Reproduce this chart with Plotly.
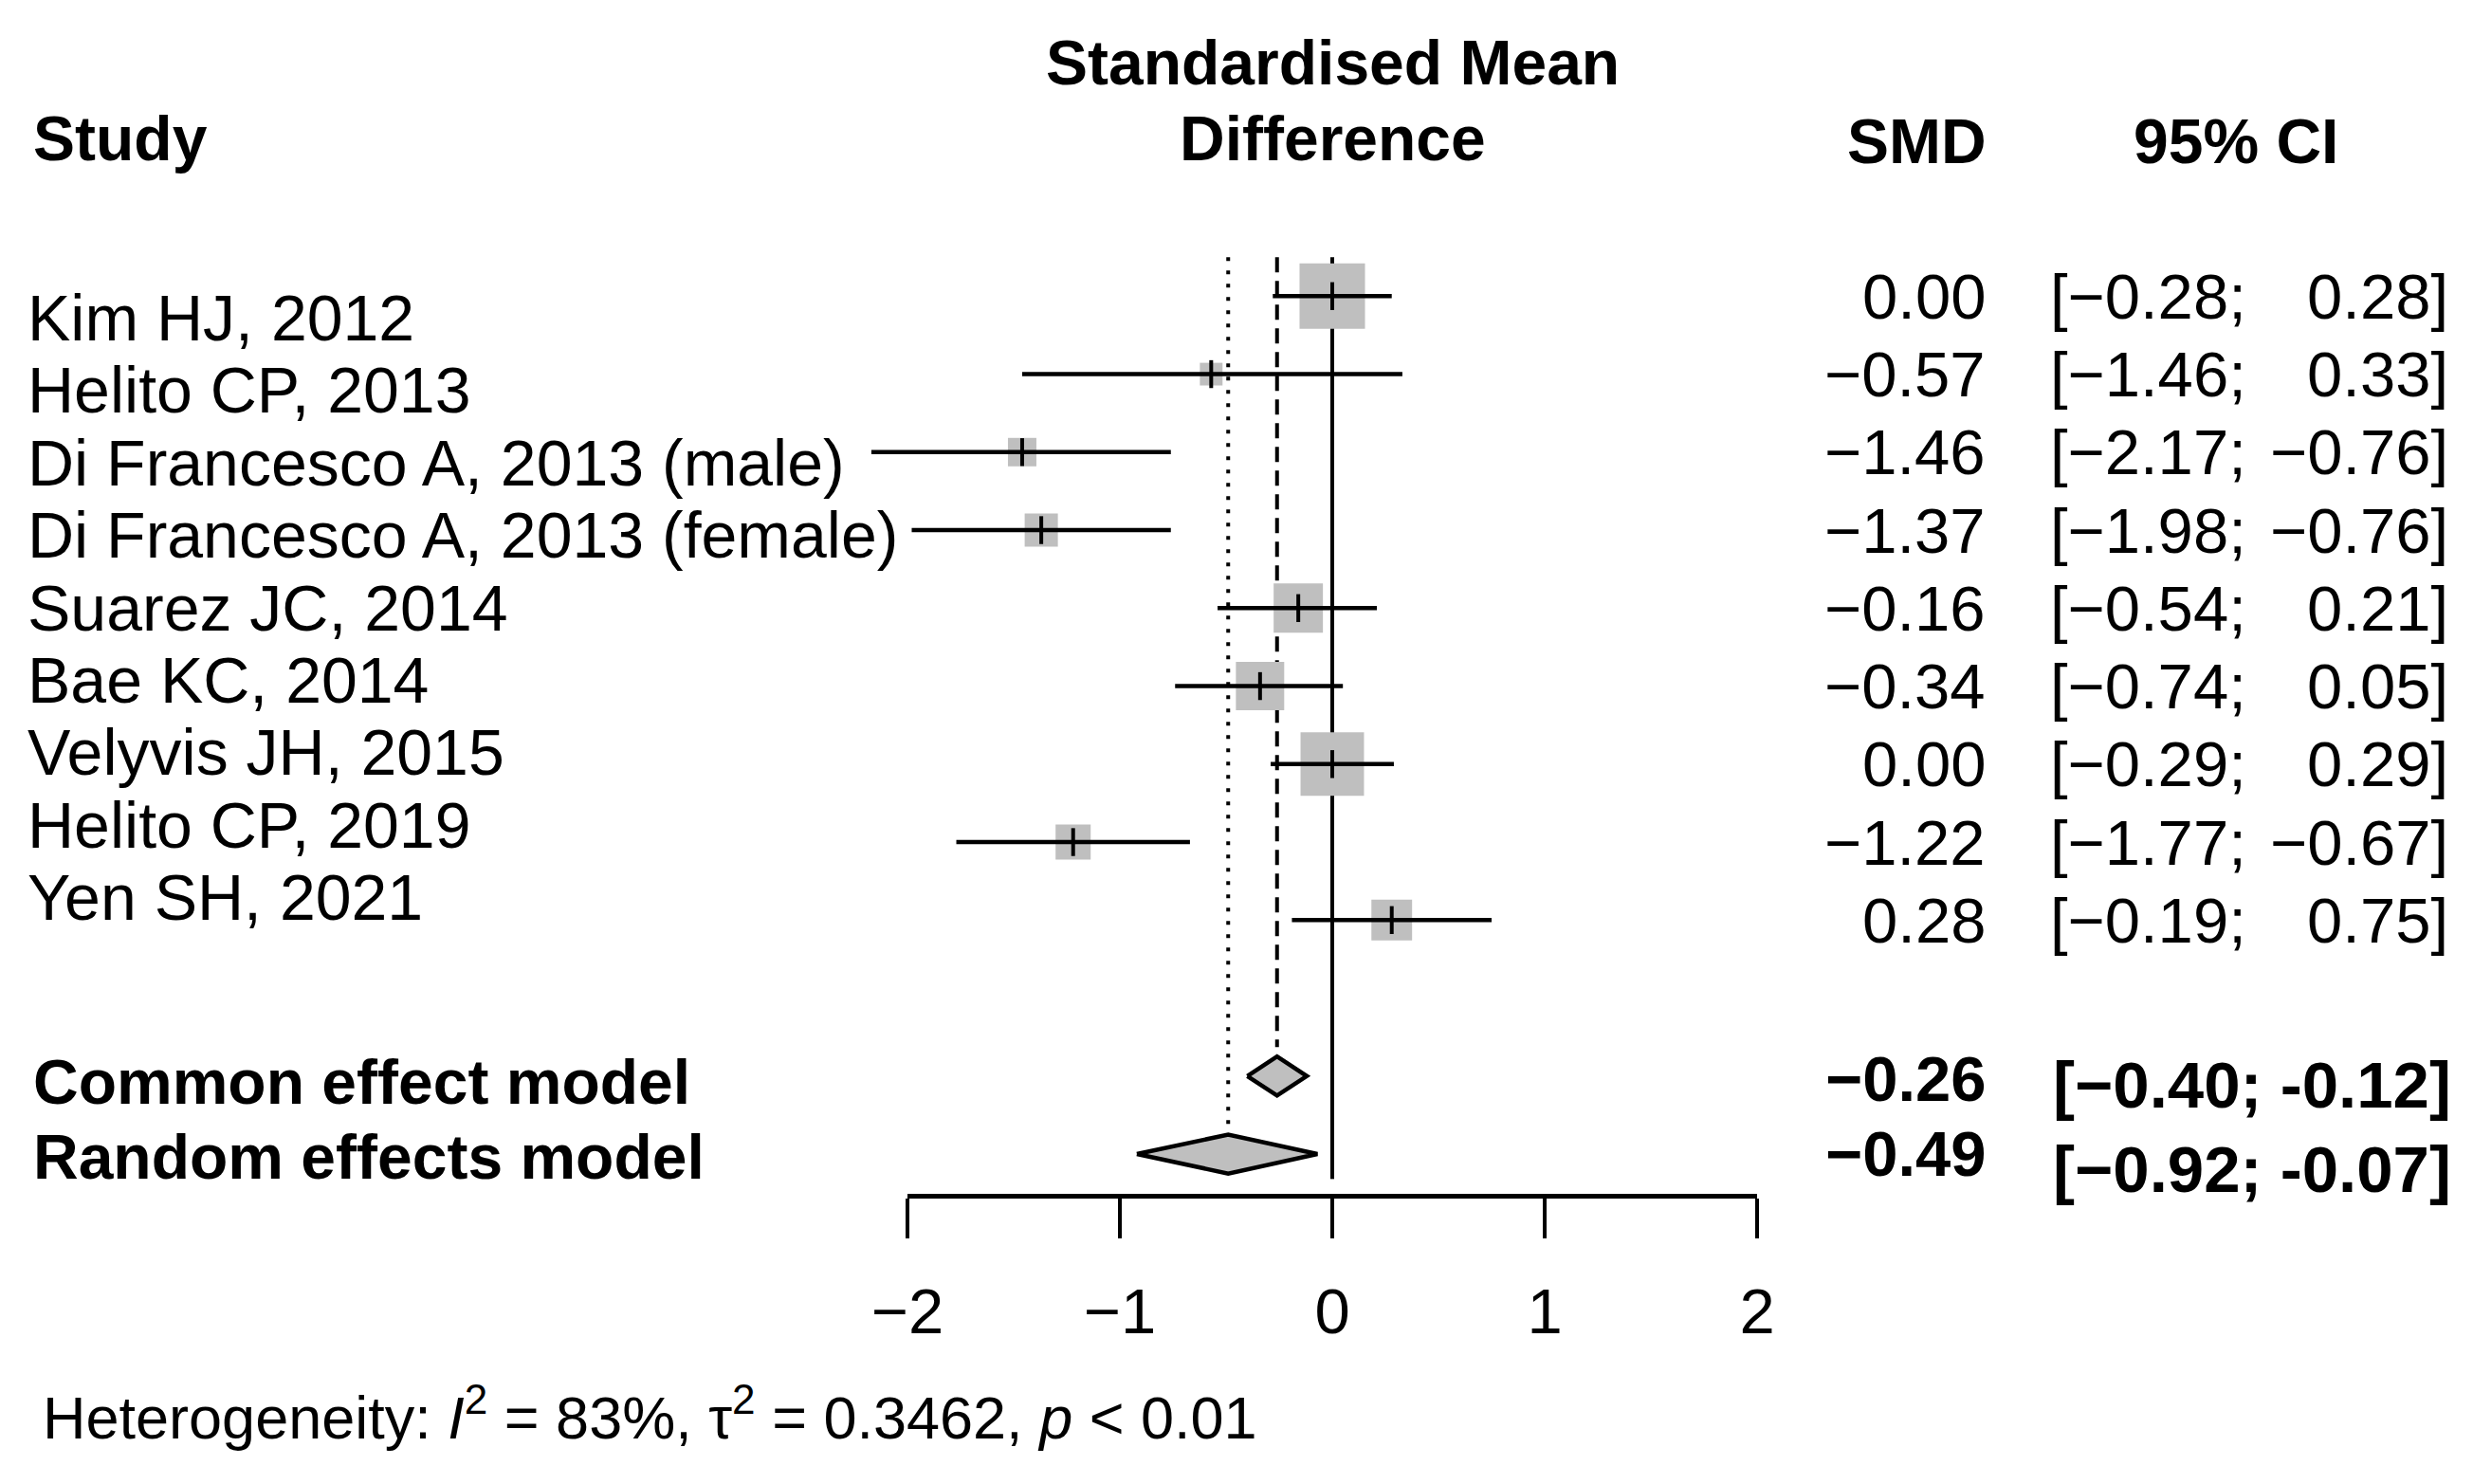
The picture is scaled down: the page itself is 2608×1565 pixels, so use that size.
import plotly.graph_objects as go

# ---------------- data ----------------
STUDIES = ["Kim HJ, 2012", "Helito CP, 2013", "Di Francesco A, 2013 (male)",
           "Di Francesco A, 2013 (female)", "Suarez JC, 2014", "Bae KC, 2014",
           "Velyvis JH, 2015", "Helito CP, 2019", "Yen SH, 2021"]
SMD = [0.00, -0.57, -1.46, -1.37, -0.16, -0.34, 0.00, -1.22, 0.28]
CI_LOW = [-0.28, -1.46, -2.17, -1.98, -0.54, -0.74, -0.29, -1.77, -0.19]
CI_HIGH = [0.28, 0.33, -0.76, -0.76, 0.21, 0.05, 0.29, -0.67, 0.75]
WEIGHTS = [23.3, 2.8, 4.4, 6.0, 13.2, 12.7, 21.9, 6.7, 9.0]

MODELS = ["Common effect model", "Random effects model"]
MODEL_SMD = [-0.26, -0.49]
MODEL_LOW = [-0.40, -0.92]
MODEL_HIGH = [-0.12, -0.07]
MODEL_CI_TEXT = ["[\u22120.40; -0.12]", "[\u22120.92; -0.07]"]

TICKS = [-2, -1, 0, 1, 2]

# ---------------- geometry (screen pixels, page has an 8px body margin) ----------------
W, H = 2608, 1565
OFF = 8
X0_PX, UNIT_PX = 1405.0 - OFF, 224.0     # figure pixel of x=0, pixels per unit
ROW0_PX, ROW_PX = 312.3 - OFF, 82.25     # figure pixel of first row, pixels per row
FONT = "Liberation Sans, Arial, sans-serif"
GRAY = "#BFBFBF"
MINUS = "\u2212"


def fmt(v):
    s = f"{abs(v):.2f}"
    return (MINUS + s) if v < 0 else s


def px(sx):
    return (sx - OFF) / W


def py(sy):
    return 1 - (sy - OFF) / H


x_range = [-X0_PX / UNIT_PX, (W - X0_PX) / UNIT_PX]
y_range = [(H - ROW0_PX) / ROW_PX, -ROW0_PX / ROW_PX]

n = len(STUDIES)
rows = list(range(n))
model_rows = [n + 1, n + 2]
AXIS_SY = 1259
axis_row = (AXIS_SY - OFF - ROW0_PX) / ROW_PX
ref_top = -0.5
half_h = [0.25, 0.25]

fig = go.Figure()

# reference lines
fig.add_trace(go.Scatter(x=[0, 0], y=[ref_top, axis_row], mode="lines",
                         line=dict(color="black", width=4), hoverinfo="skip"))
fig.add_trace(go.Scatter(x=[MODEL_SMD[0]] * 2, y=[ref_top, model_rows[0] - half_h[0] - 0.12],
                         mode="lines", line=dict(color="black", width=4, dash="16px,9px"),
                         hoverinfo="skip"))
fig.add_trace(go.Scatter(x=[MODEL_SMD[1]] * 2, y=[ref_top, model_rows[1] - half_h[1] - 0.12],
                         mode="lines", line=dict(color="black", width=4, dash="4px,10px"),
                         hoverinfo="skip"))

# boxes (side proportional to sqrt of weight)
sizes = [14.3 * (w ** 0.5) for w in WEIGHTS]
fig.add_trace(go.Scatter(x=SMD, y=rows, mode="markers",
                         marker=dict(symbol="square", size=sizes, color=GRAY, opacity=1,
                                     line=dict(width=0)),
                         hoverinfo="skip", cliponaxis=False))

# CI lines
cx, cy = [], []
for lo, hi, r in zip(CI_LOW, CI_HIGH, rows):
    cx += [lo, hi, None]
    cy += [r, r, None]
fig.add_trace(go.Scatter(x=cx, y=cy, mode="lines",
                         line=dict(color="black", width=4.5), hoverinfo="skip"))

# estimate ticks
fig.add_trace(go.Scatter(x=SMD, y=rows, mode="markers",
                         marker=dict(symbol="line-ns", size=21,
                                     line=dict(color="black", width=4)),
                         hoverinfo="skip", cliponaxis=False))

# diamonds
for est, lo, hi, r, hh in zip(MODEL_SMD, MODEL_LOW, MODEL_HIGH, model_rows, half_h):
    fig.add_trace(go.Scatter(x=[lo, est, hi, est, lo], y=[r, r - hh, r, r + hh, r],
                             mode="lines", fill="toself", fillcolor=GRAY,
                             line=dict(color="black", width=4.5), hoverinfo="skip"))

# invisible trace carrying the bottom axis
fig.add_trace(go.Scatter(x=TICKS, y=[0] * len(TICKS), xaxis="x2", yaxis="y2",
                         mode="markers", marker=dict(opacity=0), hoverinfo="skip"))

ann = []


def add(text, x, y, xanchor="left", size=67, bold=False, yref="paper"):
    if bold:
        text = f"<b>{text}</b>"
    ann.append(dict(text=text, x=x, y=y, xref="paper", yref=yref, xanchor=xanchor,
                    yanchor="middle", showarrow=False,
                    font=dict(family=FONT, size=size, color="black")))


# headers
add("Study", px(33), py(146), bold=True, size=66)
add("Standardised Mean", px(1405), py(66), xanchor="center", bold=True, size=66)
add("Difference", px(1405), py(146), xanchor="center", bold=True, size=66)
add("SMD", px(2097), py(149), xanchor="right", bold=True, size=66)
add("95% CI", px(2358), py(149), xanchor="center", bold=True, size=66)

# study labels
for i, s in enumerate(STUDIES):
    add(s, px(27), py(335 + 76.4 * i), size=68)

# SMD & CI columns
for i in rows:
    add(fmt(SMD[i]), px(2096), i, xanchor="right", yref="y")
    add("[" + fmt(CI_LOW[i]) + ";", px(2160), i, xanchor="left", yref="y")
    add(fmt(CI_HIGH[i]) + "]", px(2584), i, xanchor="right", yref="y")

# models
model_label_sy = [1141, 1220]
model_smd_sy = [1137, 1216]
model_ci_sy = [1144, 1233]
for k in range(2):
    add(MODELS[k], px(33), py(model_label_sy[k]), bold=True, size=66)
    add(fmt(MODEL_SMD[k]), px(2097), py(model_smd_sy[k]), xanchor="right", bold=True, size=67)
    add(MODEL_CI_TEXT[k], px(2587), py(model_ci_sy[k]), xanchor="right", bold=True, size=69)

add("Heterogeneity: <i>I</i><sup>2</sup> = 83%, \u03c4<sup>2</sup> = 0.3462, <i>p</i> &lt; 0.01",
    px(43), py(1490), size=63)

ax_y = py(AXIS_SY)
fig.update_layout(
    width=W, height=H, margin=dict(l=0, r=0, t=0, b=0, autoexpand=False),
    paper_bgcolor="white", plot_bgcolor="white", showlegend=False,
    xaxis=dict(domain=[0, 1], range=x_range, visible=False, fixedrange=True, automargin=False),
    yaxis=dict(domain=[0, 1], range=y_range, visible=False, fixedrange=True, automargin=False),
    xaxis2=dict(domain=[(X0_PX + TICKS[0] * UNIT_PX) / W, (X0_PX + TICKS[-1] * UNIT_PX) / W],
                range=[TICKS[0], TICKS[-1]], anchor="y2", showline=True, linewidth=5,
                linecolor="black", ticks="outside", ticklen=42, tickwidth=3.5,
                tickcolor="black", tickvals=TICKS, showgrid=False, zeroline=False,
                ticklabelstandoff=20, automargin=False, fixedrange=True,
                tickfont=dict(family=FONT, size=67, color="black")),
    yaxis2=dict(domain=[ax_y, ax_y + 0.01], visible=False, fixedrange=True, automargin=False),
    annotations=ann,
)

fig.write_html("out.html")
